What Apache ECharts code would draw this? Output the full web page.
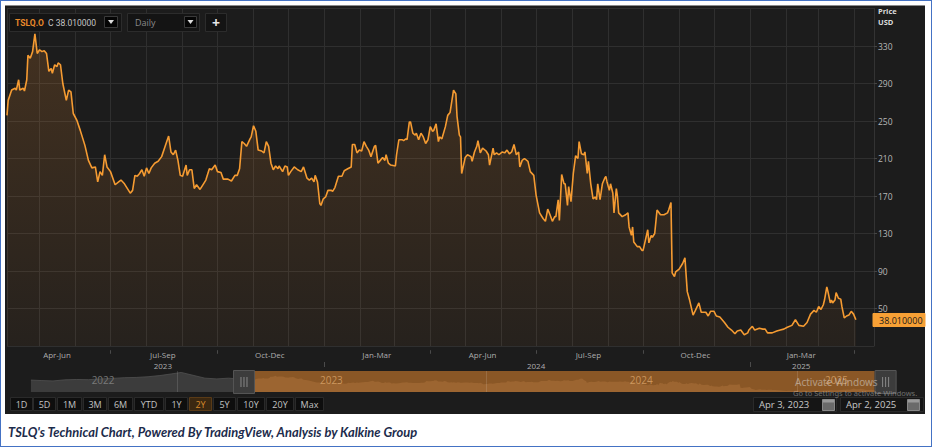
<!DOCTYPE html>
<html><head><meta charset="utf-8">
<script src="https://cdn.jsdelivr.net/npm/echarts@6/dist/echarts.min.js"></script>
<style>
html,body{margin:0;padding:0;background:#fff}
#wrap{position:relative;width:933px;height:448px;background:#fff;overflow:hidden}
#border{position:absolute;left:0;top:0;width:930px;height:445px;border:1.5px solid #4472c4}
#panel{position:absolute;left:5px;top:5px;width:920px;height:409px;background:#1c1c1c;border-top:1px solid #8a8a8a;box-sizing:border-box}
#c{position:absolute;left:0;top:0;width:933px;height:448px}
</style>
</head><body>
<div id="wrap"><div id="border"></div><div id="panel"></div><div id="c"></div></div>
<script>
// ---------- data ----------
const dates = ['2023-04-03','2023-04-04','2023-04-07','2023-04-10','2023-04-11','2023-04-13','2023-04-14','2023-04-17','2023-04-18','2023-04-20','2023-04-21','2023-04-23','2023-04-25','2023-04-27','2023-04-29','2023-05-01','2023-05-03','2023-05-05','2023-05-07','2023-05-09','2023-05-11','2023-05-12','2023-05-14','2023-05-16','2023-05-17','2023-05-19','2023-05-21','2023-05-24','2023-05-26','2023-05-28','2023-05-30','2023-06-02','2023-06-05','2023-06-09','2023-06-12','2023-06-15','2023-06-18','2023-06-20','2023-06-22','2023-06-24','2023-06-26','2023-06-28','2023-07-01','2023-07-05','2023-07-08','2023-07-10','2023-07-13','2023-07-18','2023-07-20','2023-07-22','2023-07-24','2023-07-26','2023-07-28','2023-07-30','2023-08-01','2023-08-03','2023-08-05','2023-08-08','2023-08-11','2023-08-14','2023-08-17','2023-08-20','2023-08-22','2023-08-24','2023-08-26','2023-08-28','2023-08-30','2023-09-01','2023-09-04','2023-09-05','2023-09-07','2023-09-09','2023-09-11','2023-09-13','2023-09-16','2023-09-19','2023-09-21','2023-09-24','2023-09-26','2023-09-29','2023-10-01','2023-10-04','2023-10-06','2023-10-10','2023-10-13','2023-10-16','2023-10-18','2023-10-20','2023-10-22','2023-10-24','2023-10-26','2023-10-29','2023-10-30','2023-11-01','2023-11-03','2023-11-05','2023-11-08','2023-11-10','2023-11-12','2023-11-14','2023-11-16','2023-11-18','2023-11-20','2023-11-22','2023-11-23','2023-11-26','2023-11-28','2023-11-30','2023-12-01','2023-12-03','2023-12-06','2023-12-09','2023-12-12','2023-12-14','2023-12-17','2023-12-19','2023-12-21','2023-12-23','2023-12-24','2023-12-26','2023-12-28','2023-12-29','2023-12-31','2024-01-02','2024-01-04','2024-01-07','2024-01-08','2024-01-10','2024-01-13','2024-01-16','2024-01-18','2024-01-21','2024-01-24','2024-01-25','2024-01-27','2024-01-29','2024-01-31','2024-02-02','2024-02-04','2024-02-06','2024-02-08','2024-02-10','2024-02-13','2024-02-14','2024-02-16','2024-02-18','2024-02-20','2024-02-22','2024-02-23','2024-02-25','2024-02-27','2024-03-02','2024-03-03','2024-03-05','2024-03-08','2024-03-09','2024-03-11','2024-03-12','2024-03-14','2024-03-15','2024-03-17','2024-03-19','2024-03-20','2024-03-22','2024-03-24','2024-03-26','2024-03-28','2024-03-30','2024-04-01','2024-04-03','2024-04-04','2024-04-06','2024-04-08','2024-04-09','2024-04-11','2024-04-14','2024-04-16','2024-04-18','2024-04-19','2024-04-21','2024-04-23','2024-04-24','2024-04-26','2024-04-27','2024-04-28','2024-05-01','2024-05-03','2024-05-06','2024-05-07','2024-05-09','2024-05-11','2024-05-12','2024-05-14','2024-05-16','2024-05-19','2024-05-21','2024-05-22','2024-05-25','2024-05-26','2024-05-28','2024-05-30','2024-06-02','2024-06-04','2024-06-06','2024-06-08','2024-06-10','2024-06-12','2024-06-14','2024-06-16','2024-06-17','2024-06-19','2024-06-21','2024-06-24','2024-06-26','2024-06-29','2024-07-01','2024-07-04','2024-07-07','2024-07-09','2024-07-11','2024-07-13','2024-07-15','2024-07-17','2024-07-18','2024-07-20','2024-07-21','2024-07-23','2024-07-25','2024-07-26','2024-07-28','2024-07-29','2024-07-31','2024-08-02','2024-08-04','2024-08-06','2024-08-07','2024-08-09','2024-08-11','2024-08-12','2024-08-14','2024-08-15','2024-08-17','2024-08-19','2024-08-21','2024-08-22','2024-08-23','2024-08-25','2024-08-27','2024-08-29','2024-08-30','2024-08-31','2024-09-02','2024-09-03','2024-09-05','2024-09-06','2024-09-08','2024-09-09','2024-09-10','2024-09-13','2024-09-16','2024-09-18','2024-09-19','2024-09-21','2024-09-22','2024-09-23','2024-09-26','2024-09-28','2024-09-30','2024-10-01','2024-10-03','2024-10-05','2024-10-06','2024-10-08','2024-10-09','2024-10-11','2024-10-13','2024-10-16','2024-10-19','2024-10-22','2024-10-23','2024-10-25','2024-10-26','2024-10-28','2024-10-29','2024-11-01','2024-11-04','2024-11-06','2024-11-08','2024-11-10','2024-11-13','2024-11-15','2024-11-18','2024-11-20','2024-11-24','2024-11-26','2024-11-28','2024-12-01','2024-12-03','2024-12-06','2024-12-10','2024-12-13','2024-12-16','2024-12-19','2024-12-21','2024-12-24','2024-12-27','2024-12-30','2024-12-31','2025-01-03','2025-01-05','2025-01-09','2025-01-12','2025-01-14','2025-01-16','2025-01-20','2025-01-24','2025-01-27','2025-01-30','2025-02-02','2025-02-06','2025-02-09','2025-02-12','2025-02-16','2025-02-19','2025-02-22','2025-02-25','2025-02-27','2025-03-01','2025-03-03','2025-03-05','2025-03-06','2025-03-08','2025-03-09','2025-03-11','2025-03-12','2025-03-13','2025-03-15','2025-03-16','2025-03-18','2025-03-20','2025-03-21','2025-03-23','2025-03-25','2025-03-27','2025-03-29','2025-03-31','2025-04-02'];
const prices = [256,272,283,285,283,294,283,285,282,294,320,317,324,343,322,326,324,325,322,303,306,301,310,308,312,310,290,272,283,281,258,251,240,224,208,200,201,185,196,192,214,201,196,182,185,187,183,173,176,192,191,194,198,191,200,194,200,205,207,212,223,234,217,214,219,208,192,191,203,192,198,198,178,182,177,183,187,199,198,203,196,195,188,188,186,192,192,199,228,226,223,231,233,245,239,219,218,216,228,223,205,198,202,199,202,196,202,201,192,196,201,198,196,201,189,187,189,185,192,185,162,160,167,169,176,176,175,179,191,191,197,199,201,225,225,216,219,218,228,223,219,212,223,224,205,208,211,208,214,205,203,202,214,230,230,229,231,230,249,249,237,235,237,230,237,233,226,230,244,239,240,247,228,233,231,244,256,259,267,283,279,255,235,233,194,211,214,212,207,217,223,229,216,221,218,214,203,221,214,216,214,217,216,219,215,217,225,214,217,201,208,210,207,196,192,171,152,146,143,156,150,143,148,148,166,144,193,183,183,160,180,164,194,213,210,228,215,214,217,194,207,183,167,169,166,183,166,183,189,191,185,176,183,173,152,178,169,152,148,150,152,137,128,137,121,116,116,112,112,123,134,120,128,126,130,155,150,150,152,155,163,88,84,89,92,98,104,68,59,43,48,56,46,46,42,47,47,42,41,35,30,27,23,26,27,22,24,27,31,27,29,28,28,24,24,26,27,28,30,32,38,32,31,35,44,48,46,52,49,54,59,73,68,56,59,56,59,67,61,60,52,40,42,43,47,44,38.01];
// navigator history before the selected range
const historyDates  = ['2022-07-13','2022-07-25','2022-08-08','2022-08-22','2022-09-05','2022-09-19','2022-10-03','2022-10-17','2022-10-31','2022-11-14','2022-11-28','2022-12-12','2022-12-26','2023-01-06','2023-01-20','2023-02-03','2023-02-17','2023-03-03','2023-03-17','2023-04-03'];
const historyPrices = [250,240,232,255,262,258,275,285,300,305,320,345,380,410,350,290,275,290,270,256];
// axis labels
const quarterDates  = ['2023-05-16','2023-08-15','2023-11-15','2024-02-15','2024-05-16','2024-08-15','2024-11-15','2025-02-14'];
const quarterLabels = ['Apr-Jun','Jul-Sep','Oct-Dec','Jan-Mar','Apr-Jun','Jul-Sep','Oct-Dec','Jan-Mar'];
const yearDates  = ['2023-08-15','2024-07-01','2025-02-14'];
const yearLabels = ['2023','2024','2025'];
const quarterBounds = ['2023-07-01','2023-10-01','2024-04-01','2024-07-01','2024-10-01','2025-04-01'];
const yearBounds = ['2024-01-01','2025-01-01'];
const navYearDates  = ['2022-10-06','2023-07-02','2024-07-01','2025-02-16'];
const navYearLabels = ['2022','2023','2024','2025'];
const navYearBounds = ['2023-01-01','2024-01-01','2025-01-01'];
const rangeButtons = ['1D','5D','1M','3M','6M','YTD','1Y','2Y','5Y','10Y','20Y','Max'];
const selectedButton = '2Y';
const symbolName = 'TSLQ.O';
const closeText = 'C 38.010000';
const lastPriceText = '38.010000';
const rangeStartText = 'Apr 3, 2023';
const rangeEndText = 'Apr 2, 2025';
const caption = "TSLQ's Technical Chart, Powered By TradingView, Analysis by Kalkine Group";

// ---------- chart ----------
const FONT = '"Open Sans","DejaVu Sans",sans-serif';
const MIN = '2023-04-03', MAX = '2025-04-17 14:00';
const NAVMIN = '2022-06-16', NAVMAX = '2025-05-29';
const mainData = dates.map((d,i)=>[d, prices[i]]);
const histData = historyDates.map((d,i)=>[d, historyPrices[i]]);

const chart = echarts.init(document.getElementById('c'), null, {renderer:'svg', width:933, height:448});

const option = {
  backgroundColor: 'transparent',
  animation: false,
  grid: [
    {left:7, right:59, top:8.5, height:337.5},
    {left:7, right:59, top:348, height:20},
    {left:8, right:10, top:371, height:21}
  ],
  xAxis: [
    {type:'time', gridIndex:0, min:MIN, max:MAX, splitNumber:24,
     minInterval:28*864e5, maxInterval:31*864e5,
     axisLine:{show:false}, axisTick:{show:false}, axisLabel:{show:false},
     splitLine:{show:true, lineStyle:{color:'#2f2f2f', width:1}}},
    {type:'time', gridIndex:1, min:MIN, max:MAX, show:false},
    {type:'time', gridIndex:2, min:NAVMIN, max:NAVMAX, show:false}
  ],
  yAxis: [
    {type:'value', gridIndex:0, position:'right', min:10, max:370, interval:40,
     axisLine:{show:true, lineStyle:{color:'#333'}},
     axisTick:{show:true, length:3, lineStyle:{color:'#444'}},
     axisLabel:{color:'#b8b8b8', fontSize:8.5, margin:4, fontFamily:FONT, showMinLabel:false, showMaxLabel:false},
     splitLine:{show:true, lineStyle:{color:'#2f2f2f', width:1}}},
    {type:'value', gridIndex:1, min:0, max:2, show:false},
    {type:'value', gridIndex:2, min:0, max:440, show:false}
  ],
  series: [
    {type:'line', name:'TSLQ.O', xAxisIndex:0, yAxisIndex:0, data:mainData,
     symbol:'none', showSymbol:false, z:3,
     lineStyle:{color:'#f59b32', width:1.6},
     areaStyle:{color:new echarts.graphic.LinearGradient(0,0,0,1,[
        {offset:0, color:'rgba(235,140,50,0.27)'},
        {offset:1, color:'rgba(235,140,50,0.07)'}])}},
    {type:'scatter', xAxisIndex:1, yAxisIndex:1, silent:true,
     data:quarterDates.map(d=>[d,1.38]), symbolSize:1, itemStyle:{color:'transparent'},
     label:{show:true, position:'inside', formatter:p=>quarterLabels[p.dataIndex],
            color:'#d2d2d2', fontSize:8, lineHeight:9, fontFamily:FONT},
     markLine:{silent:true, symbol:'none', label:{show:false}, animation:false,
       lineStyle:{color:'#4a4a4a', type:'solid', width:1},
       data:[...quarterBounds.map(d=>[{coord:[d,1.78]},{coord:[d,1.42]}]),
             ...yearBounds.map(d=>[{coord:[d,0.6]},{coord:[d,0.1]}])]}},
    {type:'scatter', xAxisIndex:1, yAxisIndex:1, silent:true,
     data:yearDates.map(d=>[d,0.3]), symbolSize:1, itemStyle:{color:'transparent'},
     label:{show:true, position:'inside', formatter:p=>yearLabels[p.dataIndex],
            color:'#d2d2d2', fontSize:8, lineHeight:9, fontFamily:FONT}},
    {type:'line', xAxisIndex:2, yAxisIndex:2, data:histData, symbol:'none', silent:true, z:2,
     lineStyle:{color:'#505050', width:0.8}, areaStyle:{color:'#3c3c3c', opacity:1},
     markArea:{silent:true, itemStyle:{color:'#8a5726'},
       data:[[{xAxis:dates[0]},{xAxis:dates[dates.length-1]}]]},
     markLine:{silent:true, symbol:'none', label:{show:false},
       lineStyle:{color:'rgba(255,255,255,0.13)', type:'solid', width:1},
       data:navYearBounds.map(d=>({xAxis:d}))}},
    {type:'line', xAxisIndex:2, yAxisIndex:2, data:mainData, symbol:'none', silent:true, z:3,
     lineStyle:{width:0}, areaStyle:{color:'#9c6531', opacity:1}},
    {type:'scatter', xAxisIndex:2, yAxisIndex:2, silent:true, z:4,
     data:navYearDates.map((d,i)=>({value:[d,250], label:{color: i===0 ? '#8a8a8a' : '#dba56b'}})),
     symbolSize:1, itemStyle:{color:'transparent'},
     label:{show:true, position:'inside', fontSize:10, fontFamily:FONT,
       formatter:p=>navYearLabels[p.dataIndex]}}
  ]
};
chart.setOption(option);

// ---------- interface chrome ----------
const gfx = [];
function box(x,y,w,h,fill,stroke){ gfx.push({type:'rect', silent:true, z:10, shape:{x,y,width:w,height:h}, style:{fill, stroke, lineWidth:1}}); }
function txt(x,y,text,o){ gfx.push({type:'text', silent:true, z:11, x, y, style:Object.assign({text, fill:'#bbb', font:'9px '+FONT, textVerticalAlign:'middle', textAlign:'left'}, o||{})}); }
function tri(cx,cy){ gfx.push({type:'polygon', silent:true, z:11, shape:{points:[[cx-3,cy-2],[cx+3,cy-2],[cx,cy+2]]}, style:{fill:'#dddddd'}}); }

// toolbar
box(9.5,13.5,112,18,'#141414','#2c2c2c');
txt(15,22.5,symbolName,{fill:'#e8892a', font:'bold 8.5px Roboto, sans-serif'});
txt(48,22.5,closeText,{fill:'#c4c4c4', font:'8.5px Roboto, sans-serif'});
box(104.5,16.5,13,11,'#050505','#3a3a3a'); tri(111,22);
box(127.5,13.5,72,18,'#141414','#2c2c2c');
txt(135,22.5,'Daily',{fill:'#8a8a8a', font:'9px '+FONT});
box(184.5,16.5,12,11,'#050505','#3a3a3a'); tri(190.5,22);
box(205.5,13.5,21,18,'#141414','#2c2c2c');
txt(216,22,'+',{fill:'#e6e6e6', font:'bold 14px '+FONT, textAlign:'center'});

// price axis title
txt(878,11,'Price',{fill:'#dcdcdc', font:'bold 7.5px '+FONT});
txt(878,22,'USD',{fill:'#dcdcdc', font:'bold 7.5px '+FONT});

// last price tag
const lp = chart.convertToPixel({gridIndex:0}, [dates[dates.length-1], prices[prices.length-1]]);
box(873,Math.round(lp[1])-6.5,52,13,'#f7a035','#f7a035');
txt(879,Math.round(lp[1]),lastPriceText,{fill:'#1a1a1a', font:'9px '+FONT});

// navigator handles
const nl = chart.convertToPixel({gridIndex:2}, [dates[0], 0])[0];
const nr = chart.convertToPixel({gridIndex:2}, [dates[dates.length-1], 0])[0];
function handle(x){
  box(x+0.5,370.5,21,23,'#3c3c3c','#555');
  for (let k=-3;k<=3;k+=3) gfx.push({type:'line', silent:true, z:11, shape:{x1:x+11+k,y1:377,x2:x+11+k,y2:387}, style:{stroke:'#888', lineWidth:1}});
}
handle(nl-22); handle(nr);

// range buttons
const btnX=[10,33,57,83,108,134,165,189,213,237,266,295];
const btnW=[22,22,24,23,24,29,22,22,22,27,27,28];
rangeButtons.forEach((b,i)=>{
  const sel = b===selectedButton;
  box(btnX[i]+0.5,397.5,btnW[i],13, sel?'#3b2811':'#0e0e0e', sel?'#5a3b17':'#2a2a2a');
  txt(btnX[i]+btnW[i]/2+0.5,404.5,b,{textAlign:'center', fill: sel?'#d98a2b':'#c2c2c2', font:'9px '+FONT});
});

// date inputs
function cal(x){
  box(x+0.5,399.5,12,11,'#6a6a6a','#888');
  gfx.push({type:'rect', silent:true, z:11, shape:{x:x+1,y:400,width:11,height:2.5}, style:{fill:'#999'}});
}
box(753.5,397.5,83,14,'#151515','#2a2a2a'); txt(759,404.5,rangeStartText,{fill:'#c8c8c8', font:'9.5px '+FONT}); cal(822);
box(840.5,397.5,83,14,'#151515','#2a2a2a'); txt(846,404.5,rangeEndText,{fill:'#c8c8c8', font:'9.5px '+FONT}); cal(907);

// OS watermark
txt(795,382,'Activate Windows',{fill:'rgba(225,225,225,0.5)', font:'10px "Noto Sans",sans-serif'});
txt(793,393,'Go to Settings to activate Windows.',{fill:'rgba(225,225,225,0.42)', font:'7.5px "Noto Sans",sans-serif'});

// caption
txt(8,432,caption,{fill:'#1c2b4b', font:'italic bold 12.9px Lato, "Open Sans", sans-serif'});

chart.setOption({graphic:{elements:gfx}});
</script>
</body></html>
